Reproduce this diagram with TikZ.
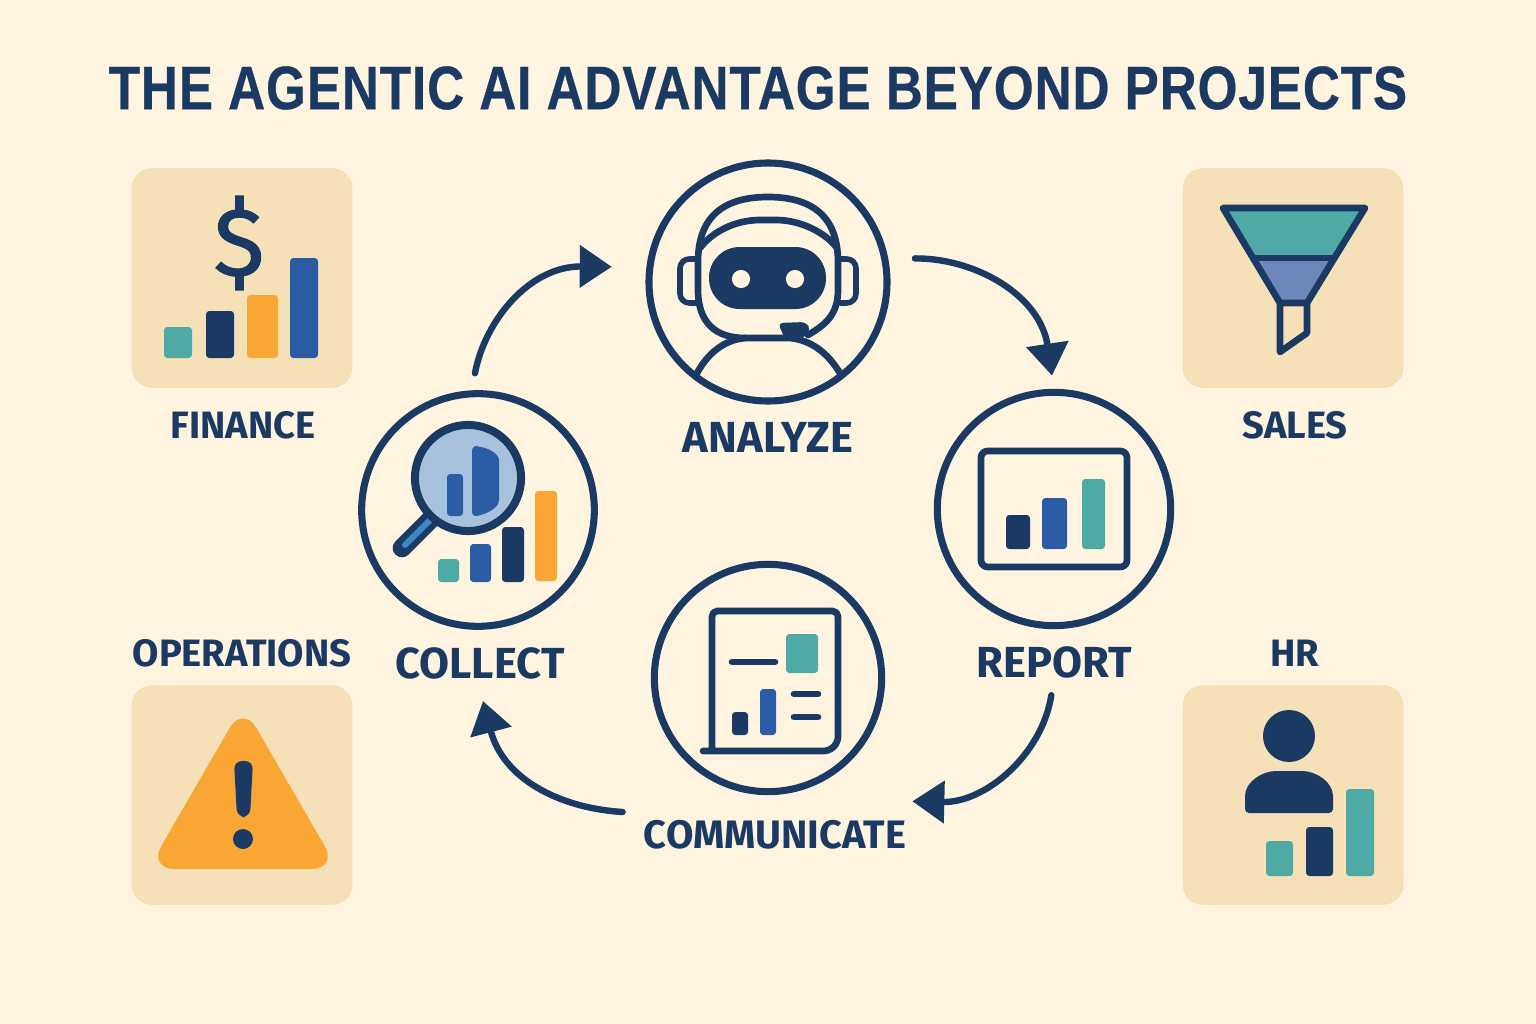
\documentclass[tikz,border=0pt]{standalone}
\usepackage{fontspec}
\setmainfont{Fira Sans}
\newfontfamily\titlefont[FakeStretch=.835,LetterSpace=1.5,FakeBold=.5]{Liberation Sans}
\newfontfamily\dollarfont[FakeBold=1.2]{Fira Sans}
\usetikzlibrary{arrows.meta}
\definecolor{paper}{HTML}{FEF4E0}
\definecolor{cardbg}{HTML}{F6E0B7}
\definecolor{navy}{HTML}{1A3A63}
\definecolor{tealc}{HTML}{4FA9A5}
\definecolor{bluec}{HTML}{2A5DA5}
\definecolor{orangec}{HTML}{FAA634}
\definecolor{slatec}{HTML}{6F86BB}
\definecolor{lensc}{HTML}{A8C1DC}
\definecolor{handlec}{HTML}{3F86C6}
\tikzstyle{card}=[rounded corners=15pt,fill=cardbg,draw=cardbg!95!orangec,line width=.5pt,minimum width=165pt,minimum height=164pt,inner sep=0pt]
\tikzstyle{ring}=[circle,draw=navy,line width=5.3pt,inner sep=0pt]
\tikzstyle{bar}=[rounded corners=2.5pt]
\tikzstyle{stroke}=[draw=navy,line width=5pt,line join=round,line cap=round]
\tikzstyle{flow}=[draw=navy,line width=4.8pt,line cap=round,-{Triangle[length=24pt,width=31pt]}]
\tikzstyle{biglabel}=[text=navy,inner sep=0pt,font=\bfseries\fontsize{32.6}{36}\selectfont]
\tikzstyle{smalllabel}=[text=navy,inner sep=0pt,font=\bfseries\fontsize{28.6}{32}\selectfont]

\begin{document}
\begin{tikzpicture}[x=.75pt,y=-.75pt]

	\fill[paper] (0,0) rectangle (1536,1024);
	\useasboundingbox (0,0) rectangle (1536,1024);

	\node[text=navy,inner sep=0pt,font=\titlefont\bfseries\fontsize{46}{50}\selectfont] (title) at (758,88) {THE AGENTIC AI ADVANTAGE BEYOND PROJECTS};

	%cards
	\node[card] (finance) at (242,278) {};
	\node[card] (sales) at (1293,278) {};
	\node[card] (operations) at (242,795) {};
	\node[card] (hr) at (1293,795) {};
	\node[smalllabel] (financelabel) at (243,425) {FINANCE};
	\node[smalllabel] (saleslabel) at (1295,425) {SALES};
	\node[smalllabel] (operationslabel) at (242,653) {OPERATIONS};
	\node[smalllabel] (hrlabel) at (1295,653) {HR};

	%cycle
	\node[ring,minimum size=178.5pt] (analyze) at (768,282) {};
	\node[ring,minimum size=174.5pt] (collect) at (478,510) {};
	\node[ring,minimum size=175pt] (report) at (1054,509) {};
	\node[ring,minimum size=170.5pt] (communicate) at (768,678) {};
	\node[biglabel] (analyzelabel) at (768,437) {ANALYZE};
	\node[biglabel] (collectlabel) at (480,663) {COLLECT};
	\node[biglabel] (reportlabel) at (1054,662) {REPORT};
	\node[biglabel,font=\bfseries\fontsize{29.8}{33}\selectfont] (communicatelabel) at (775,835) {COMMUNICATE};

	%arrows
	\draw[flow,shorten <=13pt,shorten >=26pt] (collect.93) .. controls (485,320) and (530,266) .. (analyze.173);
	\draw[flow,shorten <=20pt,shorten >=10pt] (analyze.11) .. controls (975,258) and (1040,295) .. (report.90);
	\draw[flow,shorten <=13pt] (reportlabel.south) .. controls (1042,755) and (985,803) .. ([shift={(6,-19)}]communicatelabel.north east);
	\draw[flow] ([shift={(-21,-23)}]communicatelabel.west) .. controls (558,808) and (503,778) .. ([shift={(3,22)}]collectlabel.south);

	%finance icon
	\node[text=navy,inner sep=0pt,font=\dollarfont\fontsize{72}{72}\selectfont] (dollar) at (239,243) {\$};
	\fill[bar,tealc] (164,327) rectangle (192,358);
	\fill[bar,navy] (206,311) rectangle (234,358);
	\fill[bar,orangec] (247,295) rectangle (278,358);
	\fill[bar,bluec] (290,258) rectangle (318,358);

	%sales icon
	\fill[tealc] (1223,208) -- (1365,208) -- (1334,258) -- (1253,258) -- cycle;
	\fill[slatec] (1253,258) -- (1334,258) -- (1307,303) -- (1280,303) -- cycle;
	\draw[stroke] (1223,208) -- (1365,208) -- (1307,303) -- (1280,303) -- cycle;
	\draw[stroke] (1253,258) -- (1334,258);
	\draw[stroke] (1280,303) -- (1280,352) -- (1307,333) -- (1307,303);

	%operations icon
	\fill[orangec,rounded corners=20pt] (243,705) -- (338,869) -- (148,869) -- cycle;
	\fill[navy,rounded corners=6pt] (234,761) -- (253,761) -- (250,817) -- (237,817) -- cycle;
	\fill[navy] (243,839) circle (7.5pt);

	%hr icon
	\fill[navy] (1289,736) circle (19.5pt);
	\fill[navy,rounded corners=3pt] (1245,813) -- (1245,800) .. controls (1245,782) and (1262,771) .. (1280,771) -- (1298,771) .. controls (1316,771) and (1333,782) .. (1333,800) -- (1333,813) -- cycle;
	\fill[bar,tealc] (1266,841) rectangle (1293,876);
	\fill[bar,navy] (1306,827) rectangle (1333,876);
	\fill[bar,tealc] (1346,789) rectangle (1374,876);

	%collect icon
	\draw[navy,line width=14pt,line cap=round] (430,520) -- (402,548);
	\draw[handlec,line width=4.5pt,line cap=round] (430,520) -- (405,545);
	\draw[navy,fill=lensc,line width=6pt] (468,478) circle (39.8pt);
	\fill[bar,bluec] (447,474) rectangle (463,516);
	\fill[bluec] (472,451) .. controls (472,446) and (476,445) .. (480,447) .. controls (490,448) and (499,455) .. (499,460) -- (499,500) .. controls (499,510) and (480,516) .. (476,516) .. controls (473,516) and (472,515) .. (472,512) -- cycle;
	\fill[bar,tealc] (438,559) rectangle (459,582);
	\fill[bar,bluec] (470,544) rectangle (491,582);
	\fill[bar,navy] (502,527) rectangle (524,582);
	\fill[bar,orangec] (535,491) rectangle (557,581);

	%report icon
	\draw[stroke,rounded corners=5pt] (981,451) rectangle (1127,567);
	\fill[bar,navy] (1006,515) rectangle (1030,549);
	\fill[bar,bluec] (1042,498) rectangle (1067,549);
	\fill[bar,tealc] (1082,479) rectangle (1105,549);

	%communicate icon
	\draw[stroke,rounded corners=4pt] (712,751) -- (712,611) -- (838,611) [rounded corners=11pt] -- (838,751) -- (703,751);
	\fill[bar,tealc] (786,634) rectangle (818,673);
	\draw[stroke] (732,662) -- (775,662);
	\fill[bar,navy] (732,712) rectangle (748,735);
	\fill[bar,bluec] (760,689) rectangle (776,735);
	\draw[stroke] (794,694) -- (818,694);
	\draw[stroke] (794,717) -- (818,717);

	%robot icon
	\draw[stroke] (745,338) .. controls (715,338) and (698,322) .. (698,290) -- (698,262) .. controls (698,218) and (722,197) .. (768,197) .. controls (814,197) and (838,218) .. (838,262) -- (838,290) .. controls (838,315) and (825,325) .. (808,335);
	\draw[stroke] (700,248) .. controls (712,232) and (735,220) .. (760,220) -- (776,220) .. controls (800,220) and (825,232) .. (837,248);
	\draw[stroke,line width=4.2pt,rounded corners=7pt] (697,259) -- (680,259) -- (680,303) -- (697,303);
	\draw[stroke,line width=4.2pt,rounded corners=7pt] (840,259) -- (856,259) -- (856,303) -- (840,303);
	\fill[navy,rounded corners=23pt] (709,247) rectangle (826,309);
	\fill[paper] (741,279) circle (6.8pt);
	\fill[paper] (795,279) circle (6.8pt);
	\fill[navy,rounded corners=4pt] (778,323) -- (806,322) -- (811,330) -- (802,339) -- (785,339) -- cycle;
	\draw[stroke] (696,375) .. controls (708,352) and (725,340) .. (745,338) -- (790,338) .. controls (810,340) and (828,352) .. (841,375);

\end{tikzpicture}
\end{document}
